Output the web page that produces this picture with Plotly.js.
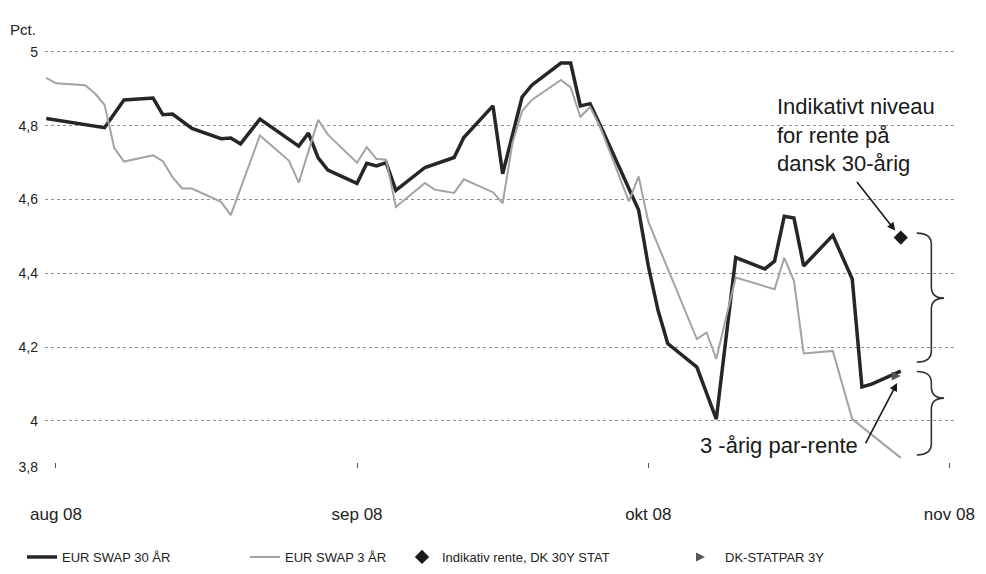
<!DOCTYPE html>
<html>
<head>
<meta charset="utf-8">
<script src="https://cdn.plot.ly/plotly-3.0.1.min.js"></script>
<style>
  html, body { margin: 0; padding: 0; background: #fff; }
  #chart { width: 986px; height: 574px; }
</style>
</head>
<body>
<div id="chart"></div>
<script>
// ---- Data ----
const dates30 = ['2008-07-31','2008-08-06','2008-08-08','2008-08-11','2008-08-12','2008-08-13','2008-08-15','2008-08-18','2008-08-19','2008-08-20','2008-08-22','2008-08-26','2008-08-27','2008-08-28','2008-08-29','2008-09-01','2008-09-02','2008-09-03','2008-09-04','2008-09-05','2008-09-08','2008-09-09','2008-09-11','2008-09-12','2008-09-15','2008-09-16','2008-09-18','2008-09-19','2008-09-22','2008-09-23','2008-09-24','2008-09-25','2008-09-26','2008-09-30','2008-10-01','2008-10-02','2008-10-03','2008-10-06','2008-10-08','2008-10-10','2008-10-13','2008-10-14','2008-10-15','2008-10-16','2008-10-17','2008-10-20','2008-10-22','2008-10-23','2008-10-24','2008-10-27'];
const swap30 = [4.82,4.795,4.87,4.875,4.83,4.832,4.793,4.765,4.767,4.751,4.818,4.745,4.78,4.713,4.68,4.644,4.698,4.691,4.70,4.625,4.687,4.696,4.714,4.768,4.854,4.67,4.878,4.91,4.97,4.97,4.854,4.86,4.804,4.572,4.42,4.30,4.21,4.146,4.005,4.443,4.412,4.433,4.555,4.55,4.42,4.503,4.385,4.092,4.10,4.135];

const dates3 = ['2008-07-31','2008-08-01','2008-08-04','2008-08-05','2008-08-06','2008-08-07','2008-08-08','2008-08-11','2008-08-12','2008-08-13','2008-08-14','2008-08-15','2008-08-18','2008-08-19','2008-08-22','2008-08-25','2008-08-26','2008-08-28','2008-08-29','2008-09-01','2008-09-02','2008-09-03','2008-09-04','2008-09-05','2008-09-08','2008-09-09','2008-09-11','2008-09-12','2008-09-15','2008-09-16','2008-09-17','2008-09-18','2008-09-19','2008-09-22','2008-09-23','2008-09-24','2008-09-25','2008-09-26','2008-09-29','2008-09-30','2008-10-01','2008-10-06','2008-10-07','2008-10-08','2008-10-09','2008-10-10','2008-10-14','2008-10-15','2008-10-16','2008-10-17','2008-10-20','2008-10-22','2008-10-27'];
const swap3 = [4.93,4.915,4.91,4.888,4.857,4.74,4.703,4.72,4.704,4.661,4.63,4.63,4.594,4.558,4.774,4.705,4.646,4.816,4.776,4.70,4.742,4.71,4.708,4.58,4.645,4.627,4.618,4.655,4.62,4.59,4.752,4.84,4.87,4.924,4.904,4.824,4.851,4.80,4.595,4.663,4.54,4.222,4.24,4.168,4.28,4.389,4.357,4.442,4.38,4.183,4.19,4.005,3.90];

const dk30Date = ['2008-10-27'];
const dk30Value = [4.497];
const dkPar3Date = ['2008-10-27'];
const dkPar3Value = [4.122];

const seriesNames = ['EUR SWAP 30 ÅR', 'EUR SWAP 3 ÅR', 'Indikativ rente, DK 30Y STAT', 'DK-STATPAR 3Y'];

const xTickVals = ['2008-08-01','2008-09-01','2008-10-01','2008-11-01'];
const xTickText = ['aug 08','sep 08','okt 08','nov 08'];
const yTickVals = [3.875, 4, 4.2, 4.4, 4.6, 4.8, 5];
const yTickText = ['3,8', '4', '4,2', '4,4', '4,6', '4,8', '5'];

// ---- Chart ----
const FONT = 'Liberation Sans, Arial, Helvetica, sans-serif';
const INK = '#222222';

const traces = [
  { x: dates30, y: swap30, name: seriesNames[0], type: 'scatter', mode: 'lines',
    line: { color: '#262626', width: 3.5 }, legend: 'legend' },
  { x: dates3, y: swap3, name: seriesNames[1], type: 'scatter', mode: 'lines',
    line: { color: '#a3a3a3', width: 2 }, legend: 'legend2' },
  { x: dk30Date, y: dk30Value, name: seriesNames[2], type: 'scatter', mode: 'markers',
    marker: { symbol: 'diamond', size: 11, color: '#1a1a1a' }, legend: 'legend3' },
  { x: dkPar3Date, y: dkPar3Value, name: seriesNames[3], type: 'scatter', mode: 'markers',
    marker: { symbol: 'arrow-right', size: 9, color: '#555555' }, legend: 'legend4' }
];

function bracePath(x0, xm, x1, yTop, yTip, yBot, r) {
  return `M${x0},${yTop} Q${xm},${yTop} ${xm},${yTop - r} L${xm},${yTip + r} ` +
         `Q${xm},${yTip} ${x1},${yTip} Q${xm},${yTip} ${xm},${yTip - r} ` +
         `L${xm},${yBot + r} Q${xm},${yBot} ${x0},${yBot}`;
}

const legendBase = { orientation: 'h', yanchor: 'middle', xanchor: 'left', y: -0.208,
  font: { family: FONT, size: 13, color: INK }, bgcolor: 'rgba(0,0,0,0)', itemwidth: 30 };

const layout = {
  width: 986, height: 574,
  margin: { l: 45, r: 31, t: 40, b: 106, autoexpand: false },
  paper_bgcolor: '#ffffff', plot_bgcolor: '#ffffff',
  font: { family: FONT, color: INK },
  showlegend: true,
  legend:  Object.assign({}, legendBase, { x: -0.0253 }),
  legend2: Object.assign({}, legendBase, { x: 0.2198 }),
  legend3: Object.assign({}, legendBase, { x: 0.3923 }),
  legend4: Object.assign({}, legendBase, { x: 0.7033 }),
  xaxis: {
    type: 'date',
    range: ['2008-07-30 20:50', '2008-11-01 14:00'],
    tickvals: xTickVals, ticktext: xTickText,
    ticks: 'inside', ticklen: 5, tickcolor: '#555', tickwidth: 1,
    showgrid: false, zeroline: false, showline: false,
    ticklabelstandoff: 34, automargin: false,
    tickfont: { family: FONT, size: 17, color: INK }
  },
  yaxis: {
    range: [3.8726, 5.0325],
    tickvals: yTickVals, ticktext: yTickText,
    showgrid: true, gridcolor: '#8f8f8f', griddash: 'dot', gridwidth: 1,
    zeroline: false, showline: false, ticks: '',
    ticklabelstandoff: 6, automargin: false,
    tickfont: { family: FONT, size: 14, color: INK }
  },
  annotations: [
    { text: 'Pct.', xref: 'paper', yref: 'paper', x: -0.0407, y: 1.0234,
      xanchor: 'left', yanchor: 'middle', showarrow: false,
      font: { family: FONT, size: 15, color: INK } },
    { text: 'Indikativt niveau<br>for rente på<br>dansk 30-årig', xref: 'paper', yref: 'paper',
      x: 0.802, y: 0.878, xanchor: 'left', yanchor: 'top', align: 'left', showarrow: false,
      font: { family: FONT, size: 22, color: '#1a1a1a' } },
    { text: '3 -årig par-rente', xref: 'paper', yref: 'paper', x: 0.807, y: 0.0537,
      xanchor: 'center', yanchor: 'middle', showarrow: false,
      font: { family: FONT, size: 22, color: '#1a1a1a' } },
    { text: '', x: dk30Date[0], y: dk30Value[0], xref: 'x', yref: 'y',
      showarrow: true, ax: -45, ay: -57, arrowhead: 2, arrowsize: 1, arrowwidth: 1.6,
      arrowcolor: '#1a1a1a', standoff: 9 },
    { text: '', x: dkPar3Date[0], y: dkPar3Value[0], xref: 'x', yref: 'y',
      showarrow: true, ax: -36, ay: 69, arrowhead: 2, arrowsize: 1, arrowwidth: 1.6,
      arrowcolor: '#1a1a1a', standoff: 8 }
  ],
  shapes: [
    { type: 'path', xref: 'paper', yref: 'y',
      path: bracePath(0.958, 0.974, 0.988, 4.509, 4.333, 4.160, 0.03),
      line: { color: '#333', width: 1.6 } },
    { type: 'path', xref: 'paper', yref: 'y',
      path: bracePath(0.958, 0.974, 0.988, 4.134, 4.062, 3.908, 0.03),
      line: { color: '#333', width: 1.6 } }
  ]
};

Plotly.newPlot('chart', traces, layout, { displayModeBar: false, staticPlot: true });
</script>
</body>
</html>
